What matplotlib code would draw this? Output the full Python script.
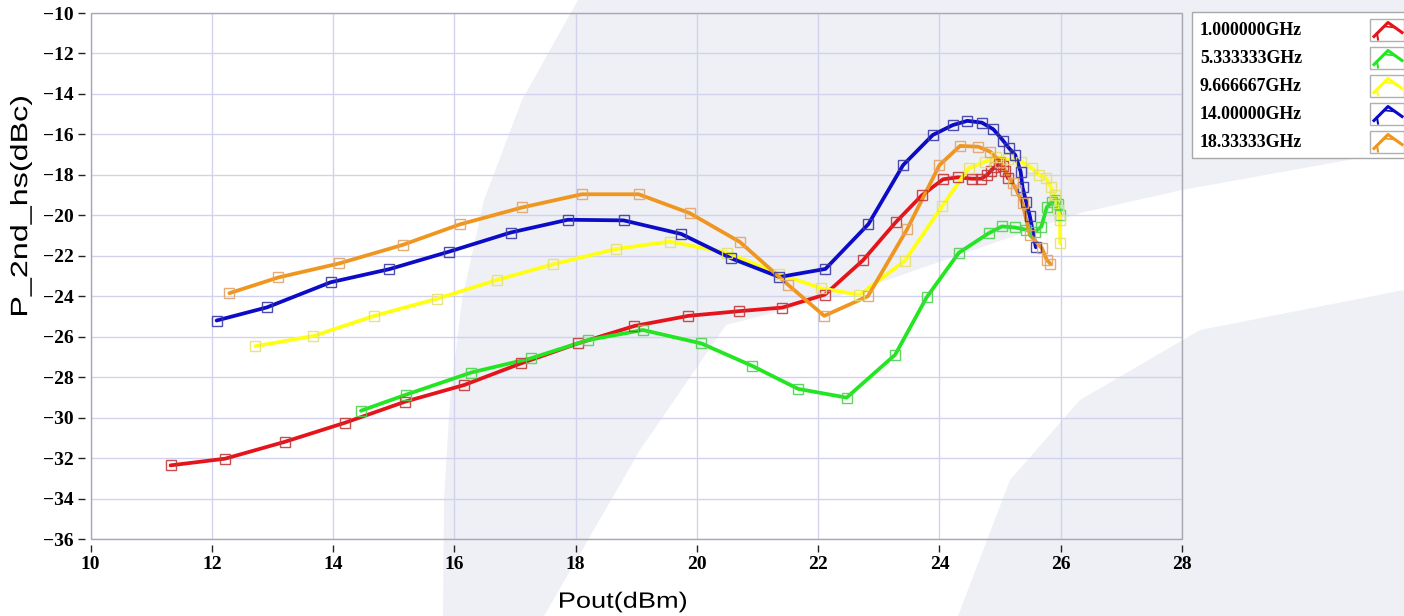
import matplotlib.pyplot as plt
import matplotlib.transforms as mtransforms
from matplotlib.patches import Rectangle, Polygon, PathPatch
from matplotlib.lines import Line2D
from matplotlib.textpath import TextPath
from matplotlib.font_manager import FontProperties

# ---- data ----
freq_labels = ["1.000000GHz", "5.333333GHz", "9.666667GHz", "14.00000GHz", "18.33333GHz"]

pout_1g = [11.32, 12.22, 13.20, 14.20, 15.19, 16.16, 17.10, 18.04, 18.97, 19.86, 20.69, 21.41,
           22.11, 22.74, 23.28, 23.71, 24.06, 24.31, 24.53, 24.69, 24.79, 24.85, 24.92, 24.98,
           25.04, 25.08, 25.13]
hs_1g = [-32.36, -32.03, -31.20, -30.25, -29.21, -28.39, -27.32, -26.33, -25.47, -24.97, -24.74,
         -24.56, -23.92, -22.22, -20.34, -19.01, -18.22, -18.12, -18.19, -18.19, -18.00, -17.79,
         -17.60, -17.46, -17.56, -17.79, -18.17]

pout_5g = [14.46, 15.20, 16.28, 17.26, 18.20, 19.11, 20.07, 20.91, 21.67, 22.47, 23.27, 23.79,
           24.32, 24.81, 25.03, 25.24, 25.43, 25.58, 25.68, 25.77, 25.85, 25.90, 25.95, 25.99]
hs_5g = [-29.66, -28.87, -27.77, -27.07, -26.17, -25.67, -26.33, -27.44, -28.58, -29.01, -26.89,
         -24.05, -21.85, -20.89, -20.55, -20.60, -20.71, -20.81, -20.56, -19.60, -19.35, -19.26,
         -19.42, -19.98]

pout_9g = [12.72, 13.67, 14.68, 15.72, 16.71, 17.62, 18.66, 19.55, 20.49, 21.36, 22.05, 22.68,
           23.43, 24.05, 24.48, 24.75, 24.94, 25.13, 25.35, 25.53, 25.65, 25.76, 25.84, 25.90,
           25.96, 25.99, 25.99]
hs_9g = [-26.47, -25.97, -24.97, -24.12, -23.19, -22.43, -21.67, -21.30, -21.84, -22.90, -23.61,
         -23.93, -22.25, -19.53, -17.68, -17.35, -17.13, -17.23, -17.35, -17.68, -18.01, -18.17,
         -18.62, -19.00, -19.74, -20.23, -21.38]

pout_14g = [12.08, 12.91, 13.96, 14.93, 15.92, 16.93, 17.87, 18.79, 19.74, 20.56, 21.36, 22.12,
            22.83, 23.40, 23.89, 24.22, 24.46, 24.70, 24.89, 25.05, 25.15, 25.25, 25.34, 25.37,
            25.43, 25.49, 25.59]
hs_14g = [-25.20, -24.55, -23.31, -22.66, -21.79, -20.85, -20.22, -20.25, -20.92, -22.12, -23.05,
          -22.65, -20.43, -17.52, -16.03, -15.54, -15.33, -15.42, -15.75, -16.31, -16.69, -17.02,
          -17.85, -18.62, -19.33, -20.03, -21.58]

pout_18g = [12.29, 13.10, 14.10, 15.15, 16.09, 17.12, 18.10, 19.04, 19.88, 20.71, 21.51, 22.10,
            22.82, 23.47, 24.00, 24.34, 24.64, 24.84, 25.00, 25.21, 25.27, 25.37, 25.49, 25.69,
            25.77, 25.83]
hs_18g = [-23.85, -23.07, -22.38, -21.46, -20.45, -19.61, -18.96, -18.96, -19.89, -21.32, -23.45,
          -24.97, -24.00, -20.67, -17.52, -16.57, -16.61, -16.86, -17.35, -18.42, -18.75, -19.41,
          -20.97, -21.63, -22.20, -22.40]

xs = [pout_1g, pout_5g, pout_9g, pout_14g, pout_18g]
ys = [hs_1g, hs_5g, hs_9g, hs_14g, hs_18g]
line_colors = ["#e5141b", "#22e622", "#ffff14", "#0c0cc8", "#f0951e"]
edge_colors = ["#c23a3a", "#4fd24f", "#e6e070", "#3a3aa8", "#e3a466"]

W, H = 1404, 616
fig = plt.figure(figsize=(W / 100, H / 100), dpi=100)
fig.patch.set_facecolor("white")
# pixel coordinates (origin top-left) for decoration
px = mtransforms.Affine2D().scale(1 / W, -1 / H).translate(0, 1) + fig.transFigure

# faint watermark behind the plot (rough shape of the logo)
wm = "#eef0f5"
fig.add_artist(Polygon([(578, 0), (1404, 0), (1404, 150), (1182, 190), (1080, 213), (850, 293),
                        (726, 325), (640, 450), (544, 616), (443, 616), (444, 500), (450, 400),
                        (462, 300), (484, 200), (522, 100)],
                       closed=True, transform=px, fc=wm, ec="none", zorder=0))
fig.add_artist(Polygon([(958, 616), (1010, 480), (1080, 400), (1200, 330), (1404, 290),
                        (1404, 616)],
                       closed=True, transform=px, fc=wm, ec="none", zorder=0))

ax = fig.add_axes([90.5 / W, 1 - 539 / H, (1182 - 90.5) / W, (539 - 13) / H])
ax.set_facecolor("none")

for x, y, c, ec in zip(xs, ys, line_colors, edge_colors):
    ax.plot(x, y, color=c, lw=2.7, solid_capstyle="round", zorder=3)
    ax.plot(x, y, ls="none", marker="s", ms=7.0, mfc="none", mec=ec, mew=1.0, alpha=0.9, zorder=4)

ax.set_xlim(10, 28)
ax.set_ylim(-36, -10)
ax.set_xticks(range(10, 29, 2))
ax.set_yticks(range(-36, -9, 2))
ax.set_yticklabels([f"\u2212{abs(v)}" for v in range(-36, -9, 2)])
ax.grid(True, color="#d2d2ee", lw=1.0, zorder=0)
# ticks sit a little away from the frame, as in the reference
for s in ax.spines.values():
    s.set_visible(False)
ax.spines["left"].set_position(("outward", 4))
ax.spines["bottom"].set_position(("outward", 4))
ax.add_patch(Rectangle((0, 0), 1, 1, transform=ax.transAxes, fc="none", ec="#a8a8b0",
                       lw=1.0, zorder=5, clip_on=False))
ax.tick_params(direction="out", length=5, width=1, color="#222222", pad=3)
for lab in ax.get_xticklabels() + ax.get_yticklabels():
    lab.set_fontfamily("Liberation Serif")
    lab.set_fontweight("bold")
    lab.set_fontsize(14)


def stretched_text(s, cx, cy, size, length, rotate=False):
    fp = FontProperties(family="Liberation Sans", size=size)
    tp = TextPath((0, 0), s, prop=fp)
    bb = tp.get_extents()
    k = 100 / 72
    sx = length / (bb.width * k)
    t = (mtransforms.Affine2D()
         .translate(-(bb.x0 + bb.width / 2), -(bb.y0 + bb.height / 2))
         .scale(k * sx, k))
    if rotate:
        t = t.rotate_deg(90)
    t = t.scale(1, -1).translate(cx, cy) + px
    fig.add_artist(PathPatch(tp, transform=t, fc="black", ec="none", lw=0))


stretched_text("Pout(dBm)", 623, 602, 16, 126)
stretched_text("P_2nd_hs(dBc)", 21, 206, 17, 218, rotate=True)

# legend panel
fig.add_artist(Rectangle((1192, 158), 230, -146, transform=px, fc="white", ec="#a8a8a8", lw=1))
for i, (lab, c) in enumerate(zip(freq_labels, line_colors)):
    yc = 30.5 + i * 28
    fig.text(1200, yc, lab, transform=px, ha="left", va="center",
             fontsize=12.8, family="Liberation Serif", weight="bold")
    fig.add_artist(Rectangle((1370, yc + 10), 34, -22, transform=px, fc="white",
                             ec="#b0b0b0", lw=1))
    fig.add_artist(Line2D([1374, 1388, 1402], [yc + 6, yc - 8, yc + 2], transform=px,
                          color=c, lw=2.2))
    fig.add_artist(Line2D([1377, 1378], [yc + 3, yc + 9], transform=px, color=c, lw=1.5))
    fig.add_artist(Line2D([1385, 1395], [yc - 4, yc - 3], transform=px, color=c, lw=1.2))

fig.savefig("out.png", dpi=100)
